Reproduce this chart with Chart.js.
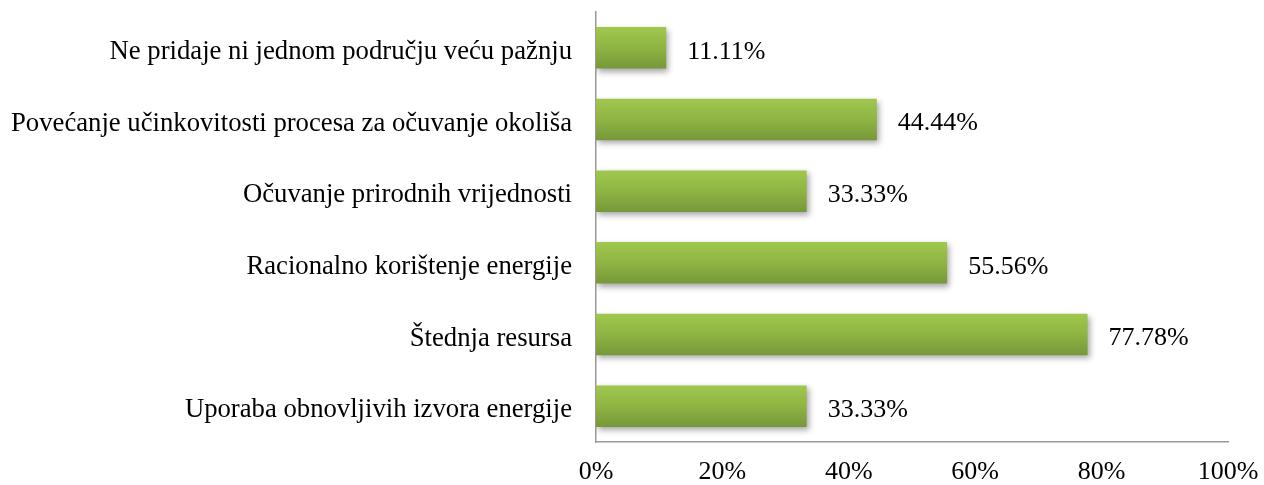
<!DOCTYPE html>
<html>
<head>
<meta charset="utf-8">
<script src="https://cdn.jsdelivr.net/npm/chart.js@4/dist/chart.umd.min.js"></script>
<style>
  html, body { margin: 0; padding: 0; background: #fff; }
  #wrap { width: 1264px; height: 485px; }
</style>
</head>
<body>
<div id="wrap"><canvas id="chart"></canvas></div>
<script>
// Categories, top to bottom
const categories = [
    'Ne pridaje ni jednom području veću pažnju',
    'Povećanje učinkovitosti procesa za očuvanje okoliša',
    'Očuvanje prirodnih vrijednosti',
    'Racionalno korištenje energije',
    'Štednja resursa',
    'Uporaba obnovljivih izvora energije'
];
const shares = [11.11, 44.44, 33.33, 55.56, 77.78, 33.33];
const xTicks = [0, 20, 40, 60, 80, 100];

const FONT = 'Liberation Serif, "Times New Roman", serif';
const FONT_SIZE = 26;
const BAR_PCT = 0.58;

// green gradient per bar, built from the y scale after layout
function barFill(c) {
    const chart = c.chart;
    const y = chart.scales.y;
    if (!y || c.dataIndex === undefined) return '#8fb444';
    const cy = y.getPixelForValue(c.dataIndex);
    const h = (y.height / categories.length) * BAR_PCT / 2;
    if (!isFinite(cy) || !isFinite(h) || h <= 0) return '#8fb444';
    const g = chart.ctx.createLinearGradient(0, cy - h, 0, cy + h);
    g.addColorStop(0, '#a0c84e');
    g.addColorStop(0.5, '#8fb443');
    g.addColorStop(1, '#76983a');
    return g;
}

// soft drop shadow under the bars
const barShadow = {
    id: 'barShadow',
    beforeDatasetsDraw(chart) {
        const ctx = chart.ctx;
        ctx.save();
        ctx.shadowColor = 'rgba(0,0,0,0.35)';
        ctx.shadowBlur = 6;
        ctx.shadowOffsetX = 2;
        ctx.shadowOffsetY = 3;
    },
    afterDatasetsDraw(chart) {
        chart.ctx.restore();
    }
};

// value labels right of each bar
const valueLabels = {
    id: 'valueLabels',
    afterDraw(chart) {
        const ctx = chart.ctx;
        const meta = chart.getDatasetMeta(0);
        ctx.save();
        ctx.font = FONT_SIZE + 'px ' + FONT;
        ctx.fillStyle = '#000';
        ctx.textAlign = 'left';
        ctx.textBaseline = 'middle';
        meta.data.forEach(function(bar, i) {
            ctx.fillText(shares[i].toFixed(2) + '%', bar.x + 21, bar.y + 4);
        });
        ctx.restore();
    }
};

new Chart(document.getElementById('chart'), {
    type: 'bar',
    data: {
        labels: categories,
        datasets: [{
            data: shares,
            backgroundColor: barFill,
            borderWidth: 0,
            barPercentage: BAR_PCT,
            categoryPercentage: 1
        }]
    },
    options: {
        indexAxis: 'y',
        responsive: true,
        maintainAspectRatio: false,
        animation: false,
        layout: { padding: { top: 12, right: 36, left: 0, bottom: 0 } },
        scales: {
            x: {
                min: 0,
                max: 100,
                afterBuildTicks: function(scale) {
                    scale.ticks = xTicks.map(v => ({ value: v }));
                },
                afterFit: function(scale) {
                    scale.height = 43;
                    scale.paddingLeft = 0;
                    scale.paddingRight = 0;
                },
                grid: { display: false, drawTicks: false },
                border: { display: true, color: '#9a9a9a', width: 1.5 },
                ticks: {
                    padding: 15,
                    color: '#000',
                    font: { family: FONT, size: FONT_SIZE },
                    callback: v => v + '%'
                }
            },
            y: {
                afterFit: function(scale) {
                    scale.width = 596;
                    scale.paddingTop = 0;
                    scale.paddingBottom = 0;
                },
                grid: { display: false, drawTicks: false },
                border: { display: true, color: '#9a9a9a', width: 1.5 },
                ticks: {
                    padding: 24,
                    labelOffset: 4,
                    color: '#000',
                    font: { family: FONT, size: 26.7 }
                }
            }
        },
        plugins: {
            legend: { display: false },
            tooltip: { enabled: false }
        }
    },
    plugins: [barShadow, valueLabels]
});
</script>
</body>
</html>
